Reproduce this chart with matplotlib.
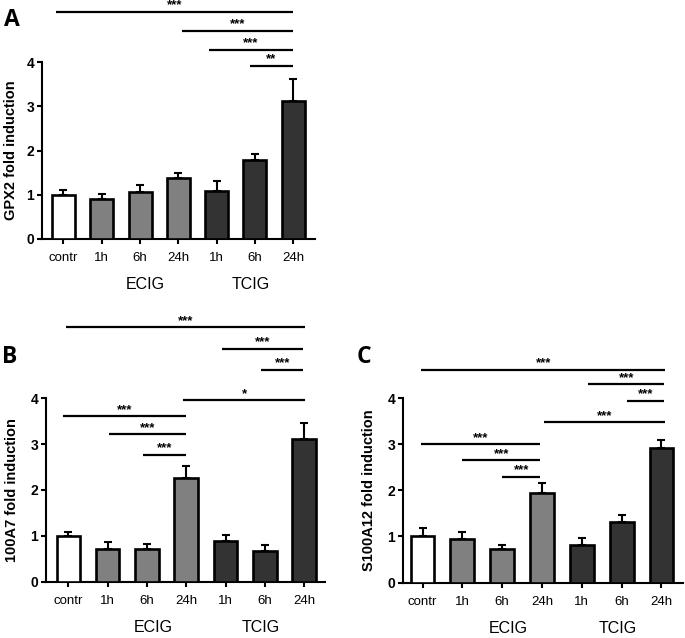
import matplotlib
matplotlib.use("Agg")
import matplotlib.pyplot as plt

plt.rcParams['font.family'] = ['Liberation Sans', 'DejaVu Sans']

categories = ['contr', '1h', '6h', '24h', '1h', '6h', '24h']
groups = ['ECIG', 'TCIG']

gpx2_mean = [1.00, 0.90, 1.06, 1.37, 1.09, 1.78, 3.11]
gpx2_err = [0.10, 0.11, 0.15, 0.12, 0.22, 0.15, 0.51]

a100a7_mean = [1.00, 0.70, 0.70, 2.25, 0.89, 0.67, 3.12]
a100a7_err = [0.09, 0.16, 0.12, 0.28, 0.12, 0.13, 0.35]

s100a12_mean = [1.02, 0.94, 0.73, 1.95, 0.81, 1.31, 2.93]
s100a12_err = [0.17, 0.16, 0.09, 0.20, 0.15, 0.15, 0.16]

# significance brackets: (start, end, height, label)
sig_a = [(-0.2, 6.0, 5.13, '***'), (3.1, 6.0, 4.70, '***'),
         (3.8, 6.0, 4.27, '***'), (4.87, 6.0, 3.91, '**')]
sig_b = [(-0.07, 6.03, 5.55, '***'), (3.9, 5.98, 5.08, '***'),
         (4.9, 5.98, 4.62, '***'), (2.92, 6.03, 3.96, '*'),
         (-0.14, 3.0, 3.61, '***'), (1.04, 3.0, 3.21, '***'),
         (1.9, 3.0, 2.77, '***')]
sig_c = [(-0.03, 6.1, 4.62, '***'), (4.16, 6.07, 4.30, '***'),
         (5.13, 6.07, 3.94, '***'), (3.04, 6.1, 3.48, '***'),
         (-0.03, 2.96, 3.00, '***'), (1.0, 2.96, 2.65, '***'),
         (2.0, 2.96, 2.29, '***')]

colors = ['white', '#808080', '#808080', '#808080', '#333333', '#333333', '#333333']

W, H = 685, 638
fig = plt.figure(figsize=(W / 100, H / 100), dpi=100)


def px_axes(left, right, y0, y4):
    return [left / W, 1 - y0 / H, (right - left) / W, (y0 - y4) / H]


def panel(rect, xlim, means, errs, ylabel, sigs, label_x):
    ax = fig.add_axes(rect)
    x = list(range(len(categories)))
    ax.bar(x, means, width=0.6, color=colors, edgecolor='black',
           linewidth=1.9, zorder=3)
    ax.errorbar(x, means, yerr=[[0] * len(errs), errs], fmt='none',
                ecolor='black', elinewidth=1.5, capsize=3.2, capthick=1.5,
                zorder=2)
    ax.set_xlim(*xlim)
    ax.set_ylim(0, 4)
    ax.set_yticks([0, 1, 2, 3, 4])
    ax.set_xticks(x)
    ax.set_xticklabels(categories, fontsize=9.5)
    for t in ax.get_yticklabels():
        t.set_fontweight('bold')
        t.set_fontsize(10)
    ax.spines['top'].set_visible(False)
    ax.spines['right'].set_visible(False)
    ax.spines['left'].set_linewidth(1.5)
    ax.spines['bottom'].set_linewidth(1.5)
    ax.tick_params(axis='both', width=1.5, length=3.5, direction='out')
    ax.tick_params(axis='x', pad=6)
    ax.tick_params(axis='y', pad=2)
    ax.set_ylabel(ylabel, fontsize=10.5, fontweight='bold')
    ax.yaxis.set_label_coords(label_x, 0.5)
    for g, gx in zip(groups, [2.15, 4.9]):
        ax.annotate(g, xy=(gx, 0), xycoords=('data', 'axes fraction'),
                    xytext=(0, -33), textcoords='offset points',
                    ha='center', va='center', fontsize=11.5)
    for x1, x2, y, lab in sigs:
        ax.plot([x1, x2], [y, y], color='black', lw=1.6, clip_on=False,
                solid_capstyle='butt')
        ax.annotate(lab, xy=((x1 + x2) / 2, y), xycoords='data',
                    xytext=(0, 0.3), textcoords='offset points',
                    ha='center', va='bottom', fontsize=9.5, fontweight='bold',
                    annotation_clip=False)
    return ax


panel(px_axes(42, 315, 239, 62), (-0.56, 6.57), gpx2_mean, gpx2_err,
      'GPX2 fold induction', sig_a, -0.088)
panel(px_axes(46, 325, 581.5, 398.3), (-0.57, 6.53), a100a7_mean, a100a7_err,
      '100A7 fold induction', sig_b, -0.097)
panel(px_axes(403, 683, 582.5, 398.3), (-0.49, 6.54), s100a12_mean, s100a12_err,
      'S100A12 fold induction', sig_c, -0.096)

for lab, (px, py) in zip(['A', 'B', 'C'], [(12, 20), (10, 357), (364, 357)]):
    fig.text(px / W, 1 - py / H, lab, fontsize=16.5, fontweight='bold',
             ha='center', va='center', family=['Open Sans', 'DejaVu Sans'])

fig.savefig('out.png', dpi=100)
